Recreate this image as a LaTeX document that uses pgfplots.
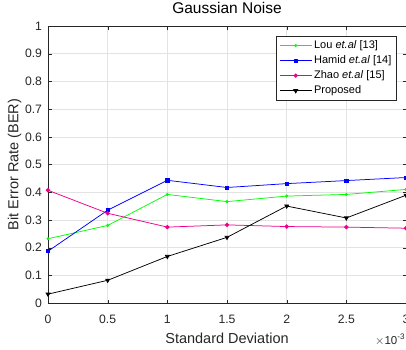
\documentclass[border=0pt]{standalone}
\usepackage{pgfplots}
\pgfplotsset{compat=1.18}
\usepackage{fontspec}
\setmainfont{Liberation Sans}
\definecolor{axgray}{rgb}{0.15,0.15,0.15}
\begin{document}
\begin{tikzpicture}
\begin{axis}[
  scale only axis, width=358pt, height=277pt,
  xmin=0, xmax=3, ymin=0, ymax=1,
  xtick={0,0.5,1,1.5,2,2.5,3},
  xticklabels={0,0.5,1,1.5,2,2.5,3},
  ytick={0,0.1,...,1},
  yticklabels={0,0.1,0.2,0.3,0.4,0.5,0.6,0.7,0.8,0.9,1},
  tick align=inside,
  axis line style={axgray},
  tick style={axgray},
  major tick length=3.5pt,
  grid=major,
  grid style={gray!22, line width=0.5pt},
  ticklabel style={font=\fontsize{12.2}{14}\selectfont, text=axgray},
  xticklabel style={anchor=base, yshift=-20pt},
  yticklabel style={anchor=east, xshift=-2.5pt},
  title={Gaussian Noise},
  title style={font=\fontsize{15.5}{18}\selectfont, at={(0.5,1)}, anchor=base, yshift=7pt},
  xlabel={Standard Deviation},
  ylabel={Bit Error Rate (BER)},
  label style={font=\fontsize{14.5}{16}\selectfont, text=axgray},
  xlabel style={at={(0.5,0)}, anchor=base, yshift=-40pt},
  ylabel style={at={(0,0.5)}, anchor=center, yshift=33.5pt},
  legend style={at={(0.974,0.964)}, anchor=north east, font=\fontsize{11}{13}\selectfont,
    draw=axgray, line width=0.6pt, row sep=1.6pt, inner xsep=3pt, inner ysep=2.5pt,
    nodes={inner sep=2pt}},
  legend cell align=left,
  legend image code/.code={\draw[mark repeat=2,mark phase=2,#1] plot coordinates {(0pt,0pt)(16pt,0pt)(32pt,0pt)};},
  every axis plot/.append style={line width=0.75pt},
  clip=false,
]
\addplot[green, mark=*, mark size=1.2pt] coordinates {(0,0.232)(0.5,0.280)(1,0.392)(1.5,0.366)(2,0.386)(2.5,0.392)(3,0.410)};
\addlegendentry{Lou \textit{et.al} [13]}
\addplot[blue, mark=square*, mark size=1.6pt] coordinates {(0,0.187)(0.5,0.335)(1,0.443)(1.5,0.417)(2,0.431)(2.5,0.442)(3,0.453)};
\addlegendentry{Hamid \textit{et.al} [14]}
\addplot[magenta, mark=*, mark size=1.8pt] coordinates {(0,0.407)(0.5,0.324)(1,0.274)(1.5,0.282)(2,0.276)(2.5,0.274)(3,0.270)};
\addlegendentry{Zhao \textit{et.al} [15]}
\addplot[black, mark=triangle*, mark size=2.2pt, mark options={rotate=180}] coordinates {(0,0.032)(0.5,0.082)(1,0.168)(1.5,0.237)(2,0.350)(2.5,0.307)(3,0.389)};
\addlegendentry{Proposed}
\end{axis}
\node[font=\fontsize{11.5}{13}\selectfont, text=axgray, anchor=base west, inner sep=0pt] at (327pt,-41pt) {$\times$10\textsuperscript{-3}};
\pgfresetboundingbox
\path[use as bounding box] (-48pt,-46pt) rectangle (358pt,303pt);
\end{tikzpicture}
\end{document}
